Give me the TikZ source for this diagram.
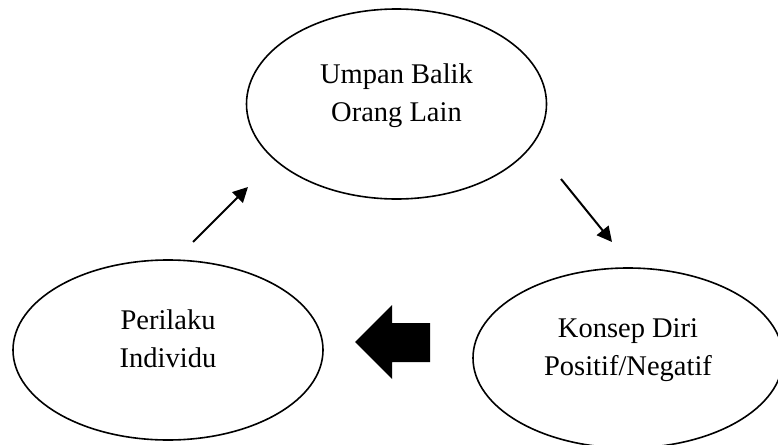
\documentclass[tikz,border=0pt]{standalone}
\usepackage{fontspec}
\setmainfont{Liberation Serif}
\usetikzlibrary{arrows.meta,shapes.geometric}

\begin{document}
\begin{tikzpicture}[x=1pt,y=-1pt]
      \useasboundingbox (0,0) rectangle (778,444);
      \clip (0,0) rectangle (778,444);
      \begin{scope}[every node/.style={ellipse,draw,line width=1.6pt,align=center,
          font=\fontsize{28.5}{38}\selectfont,text height=40pt,text depth=6pt}]
        \node[minimum width=300pt,minimum height=190pt] (umpan) at (396.5,104) {Umpan Balik\\Orang Lain};
        \node[minimum width=310pt,minimum height=180pt] (perilaku) at (168,350) {Perilaku\\Individu};
        \node[minimum width=310pt,minimum height=180pt] (konsep) at (628,358) {Konsep Diri\\Positif/Negatif};
      \end{scope}
      \coordinate (p1) at (193,242);
      \coordinate (u1) at (248,187);
      \coordinate (u2) at (561,179);
      \coordinate (k1) at (612,242);
      \begin{scope}[every edge/.style={draw,line width=2pt,-{Triangle[length=15pt,width=15pt]}}]
        \path (p1) edge (u1);
        \path (u2) edge (k1);
      \end{scope}
      % thick arrow from konsep to perilaku
      \fill (430,323) -- (392,323) -- (392,305) -- (355,342) -- (392,379)
        -- (392,362) -- (430,362) -- cycle;
    \end{tikzpicture}
\end{document}
